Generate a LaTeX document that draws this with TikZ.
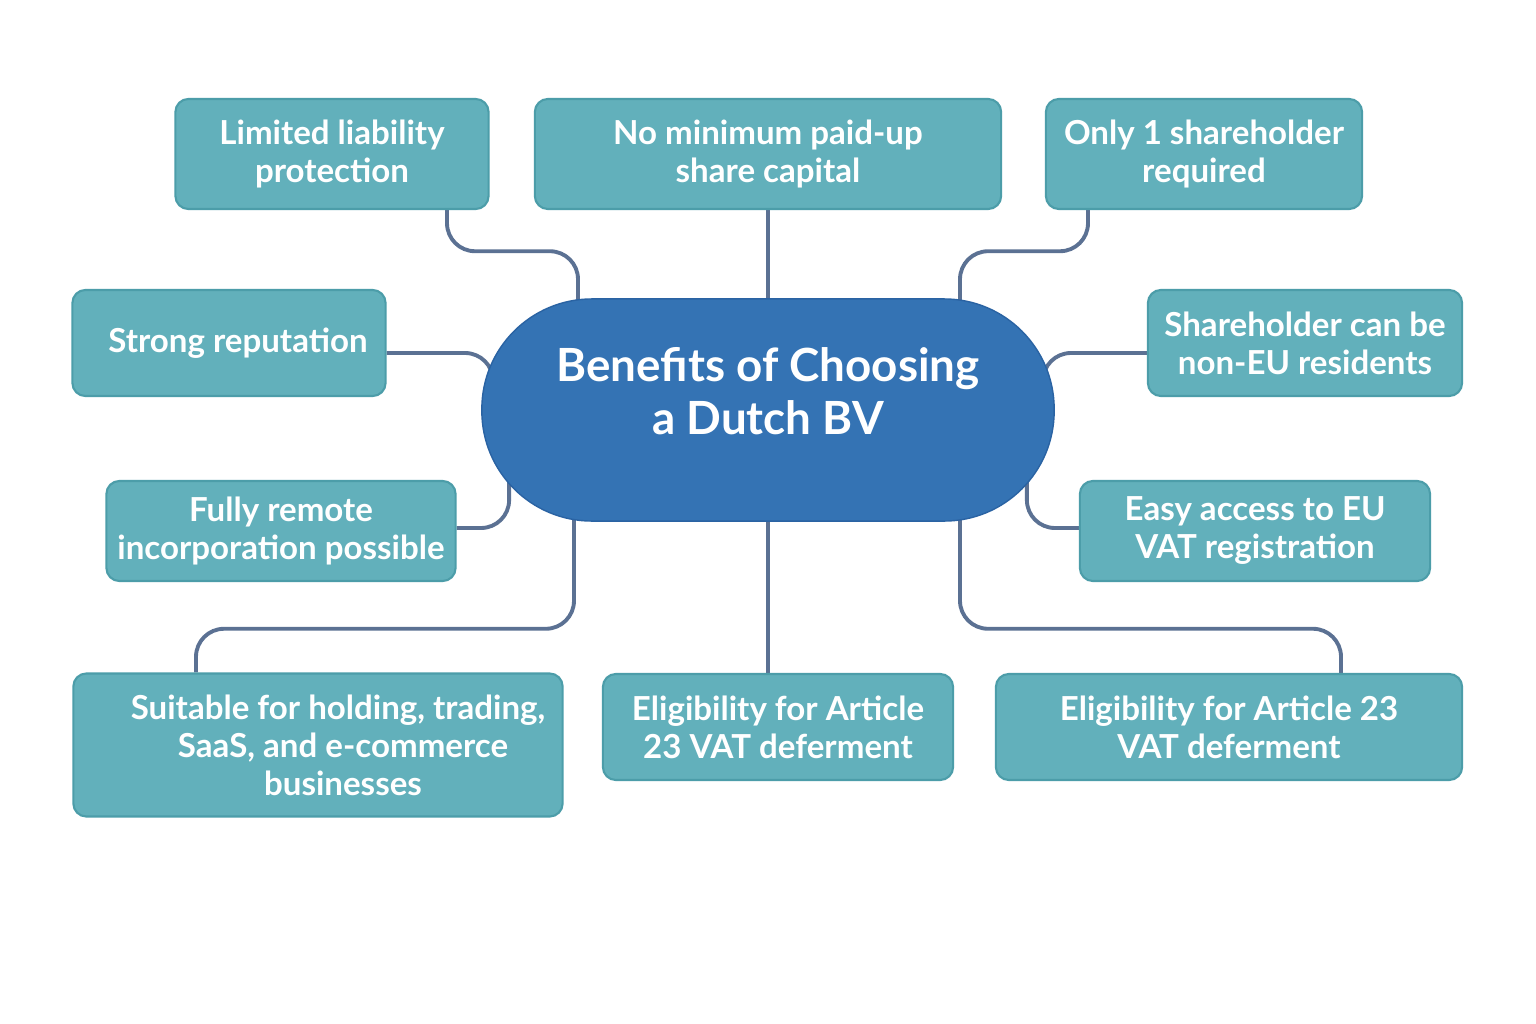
\documentclass[tikz,border=0pt]{standalone}
\usepackage{fontspec}
\setmainfont{Lato}
\usetikzlibrary{positioning, backgrounds, calc}

\definecolor{tealbox}{HTML}{62B0BB}
\definecolor{tealedge}{HTML}{4C9DA9}
\definecolor{hubblue}{HTML}{3473B4}
\definecolor{hubedge}{HTML}{2A63A3}
\definecolor{linkgray}{HTML}{5B7193}

\tikzset{
    benefit/.style={draw=tealedge, fill=tealbox, rounded corners=0.13cm, line width=0.6pt, inner xsep=0pt,
        text=white, align=center, font=\fontsize{9.4}{10.8}\selectfont\bfseries},
    link/.style={draw=linkgray, line width=1.1pt, rounded corners=0.28cm},
}

\begin{document}
\begin{tikzpicture}[x=0.01cm, y=-0.01cm]
    \useasboundingbox (0, 0) rectangle (1536, 1024);

    % central idea
    \node [draw=hubedge, fill=hubblue, rounded corners=1.1cm, minimum width=5.72cm, minimum height=2.22cm, text depth=0.38cm,
        text=white, align=center, font=\fontsize{13}{15.3}\selectfont\bfseries] (hub) at (768, 410) {Benefits of Choosing\\a Dutch BV};

    % benefits, top row
    \node [benefit, minimum width=3.13cm, minimum height=1.1cm] (liability) at (332, 154) {Limited liability\\protection};
    \node [benefit, minimum width=4.66cm, minimum height=1.1cm] (capital) at (768, 154) {No minimum paid-up\\share capital};
    \node [benefit, minimum width=3.16cm, minimum height=1.1cm] (single) at (1204, 154) {Only 1 shareholder\\required};

    % benefits, sides
    \node [benefit, minimum width=3.13cm, minimum height=1.06cm] (reputation) at (229, 343) {\hspace*{0.18cm}Strong reputation};
    \node [benefit, minimum width=3.14cm, minimum height=1.06cm] (nonEU) at (1305, 343) {Shareholder can be\\non-EU residents};
    \node [benefit, minimum width=3.49cm, minimum height=1.0cm] (remote) at (281, 531) {Fully remote\\incorporation possible};
    \node [benefit, minimum width=3.50cm, minimum height=1.0cm] (vatreg) at (1255, 531) {Easy access to EU\\VAT registration};

    % benefits, bottom row
    \node [benefit, minimum width=4.89cm, minimum height=1.43cm] (suitable) at (318, 745)
        {\hspace*{0.4cm}Suitable for holding, trading,\\\hspace*{0.5cm}SaaS, and e-commerce\\\hspace*{0.5cm}businesses};
    \node [benefit, minimum width=3.50cm, minimum height=1.06cm] (article) at (778, 727) {Eligibility for Article\\23 VAT deferment};
    \node [benefit, minimum width=4.66cm, minimum height=1.06cm] (deferment) at (1229, 727) {Eligibility for Article 23\\VAT deferment};

    % connectors
    \begin{scope}[on background layer]
        \fill [white] (0, 0) rectangle (1536, 1024);
        \draw [link] ($(liability.south)+(115, 0)$) |- ($(hub.north)+(-190, -47)$) -- ($(hub.north)+(-190, 10)$);
        \draw [link] (capital.south) -- (hub.north);
        \draw [link] ($(single.south)+(-116, 0)$) |- ($(hub.north)+(192, -47)$) -- ($(hub.north)+(192, 10)$);

        \draw [link] ($(reputation.east)+(0, 10)$) -| ($(hub.west)+(12, -10)$);
        \draw [link] ($(nonEU.west)+(0, 10)$) -| ($(hub.east)+(-12, -10)$);
        \draw [link] ($(remote.east)+(0, -3)$) -| ($(hub.west)+(28, 60)$);
        \draw [link] ($(vatreg.west)+(0, -3)$) -| ($(hub.east)+(-28, 60)$);

        \draw [link] ($(suitable.north)+(-122, 0)$) |- ($(hub.south)+(-194, 107)$) -- ($(hub.south)+(-194, -10)$);
        \draw [link] (hub.south) -- (hub.south |- article.north);
        \draw [link] ($(deferment.north)+(112, 0)$) |- ($(hub.south)+(192, 107)$) -- ($(hub.south)+(192, -10)$);
    \end{scope}
\end{tikzpicture}
\end{document}
